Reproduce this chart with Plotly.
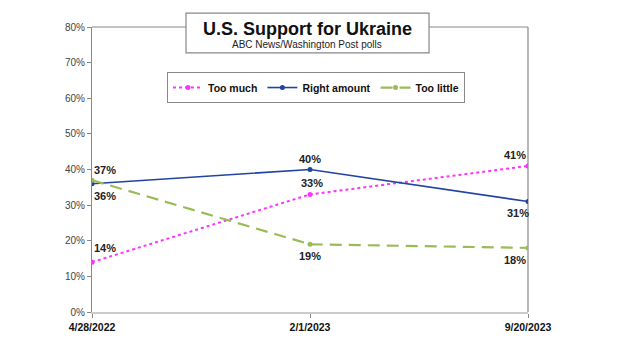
import plotly.graph_objects as go

dates = ["4/28/2022", "2/1/2023", "9/20/2023"]
too_much = [14, 33, 41]
right_amount = [36, 40, 31]
too_little = [37, 19, 18]
y_ticks = [0, 10, 20, 30, 40, 50, 60, 70, 80]

xi = list(range(len(dates)))

fig = go.Figure()
fig.add_trace(go.Scatter(x=xi, y=too_much, name="Too much", mode="lines+markers",
                         line=dict(color="#FF33FF", width=2, dash="dot"),
                         marker=dict(size=5, color="#FF33FF")))
fig.add_trace(go.Scatter(x=xi, y=right_amount, name="Right amount", mode="lines+markers",
                         line=dict(color="#2244A0", width=1.6),
                         marker=dict(size=5, color="#2244A0")))
fig.add_trace(go.Scatter(x=xi, y=too_little, name="Too little", mode="lines+markers",
                         line=dict(color="#9BBB59", width=2.2, dash="12px,7px"),
                         marker=dict(size=5, color="#9BBB59")))

offsets = {
    "too_much": [(13, 14), (2, 11), (-13, 11)],
    "right": [(13, -12), (0, 11), (-10, -11)],
    "little": [(13, 10), (0, -12), (-13, -12)],
}
ann = []
for key, vals in (("too_much", too_much), ("right", right_amount), ("little", too_little)):
    for i, v in enumerate(vals):
        dx, dy = offsets[key][i]
        ann.append(dict(x=i, y=v, xref="x", yref="y", text=f"<b>{v}%</b>", showarrow=False,
                        xshift=dx, yshift=dy,
                        font=dict(family="Liberation Sans, Arial", size=11, color="#222")))

# title
ann.append(dict(x=0.494, y=0.993, xref="paper", yref="paper", text="<b>U.S. Support for Ukraine</b>",
                showarrow=False, font=dict(family="Liberation Sans, Arial", size=18, color="#111"),
                yanchor="middle"))
ann.append(dict(x=0.494, y=0.937, xref="paper", yref="paper", text="ABC News/Washington Post polls",
                showarrow=False, font=dict(family="Liberation Sans, Arial", size=10, color="#222"),
                yanchor="middle"))

shapes = [
    dict(type="line", xref="paper", yref="paper", x0=0, x1=1, y0=1, y1=1,
         line=dict(color="#888", width=1.2), layer="below"),
    dict(type="line", xref="paper", yref="paper", x0=1, x1=1, y0=0, y1=1,
         line=dict(color="#888", width=1.2), layer="below"),
    dict(type="rect", xref="paper", yref="paper", x0=0.2156, x1=0.773, y0=0.909, y1=1.049,
         line=dict(color="#888", width=1.2), fillcolor="white", layer="above"),
]

fig.update_layout(
    width=630, height=354,
    margin=dict(l=92, r=102, t=27, b=42),
    paper_bgcolor="white", plot_bgcolor="white",
    font=dict(family="Liberation Sans, Arial", color="#222"),
    showlegend=True,
    legend=dict(orientation="h", x=0.172, y=0.842, xanchor="left", yanchor="top",
                bordercolor="#888", borderwidth=1, bgcolor="white",
                font=dict(size=10.5, color="#111", weight="bold"),
                itemwidth=30, tracegroupgap=0),
    annotations=ann,
    shapes=shapes,
    xaxis=dict(range=[0, 2], tickmode="array", tickvals=xi,
               ticktext=[f"<b>{d}</b>" for d in dates],
               showgrid=False, zeroline=False, showline=True, linecolor="#ccc", linewidth=2,
               ticks="outside", ticklen=4, tickcolor="#888",
               tickfont=dict(size=10.5, color="#111")),
    yaxis=dict(range=[0, 80], tickvals=y_ticks, ticktext=[f"{v}%" for v in y_ticks],
               showgrid=False, zeroline=False, showline=True, linecolor="#888", linewidth=1.2,
               ticks="outside", ticklen=4, tickcolor="#888",
               tickfont=dict(size=10, color="#444")),
)

fig.write_html("out.html")
